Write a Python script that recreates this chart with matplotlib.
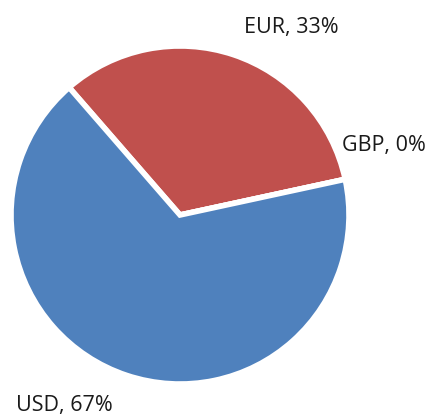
import matplotlib
matplotlib.use("Agg")
import matplotlib.pyplot as plt

labels = ["EUR", "GBP", "USD"]
values = [33, 0, 67]
colors = ["#C0504D", "#9BBB59", "#4F81BD"]

# label anchor positions (pixels, y up), layout only
label_pos = [(244, 387), (342, 270), (16, 10)]

W, H = 430, 415
fig = plt.figure(figsize=(W / 100, H / 100), dpi=100)
ax = fig.add_axes([0, 0, 1, 1])

wedges, _ = ax.pie(values, colors=colors, startangle=131, counterclock=False,
                   center=(180, 200), radius=169, frame=True,
                   wedgeprops=dict(edgecolor="white", linewidth=4))
ax.set_xlim(0, W)
ax.set_ylim(0, H)
ax.set_aspect("equal")
ax.axis("off")

total = sum(values)
for lab, v, (x, y) in zip(labels, values, label_pos):
    ax.text(x, y, f"{lab}, {round(v / total * 100)}%", ha="left", va="center",
            fontsize=15.5, family=["Open Sans", "DejaVu Sans"], color="#1a1a1a")

fig.savefig("out.png", dpi=100)
